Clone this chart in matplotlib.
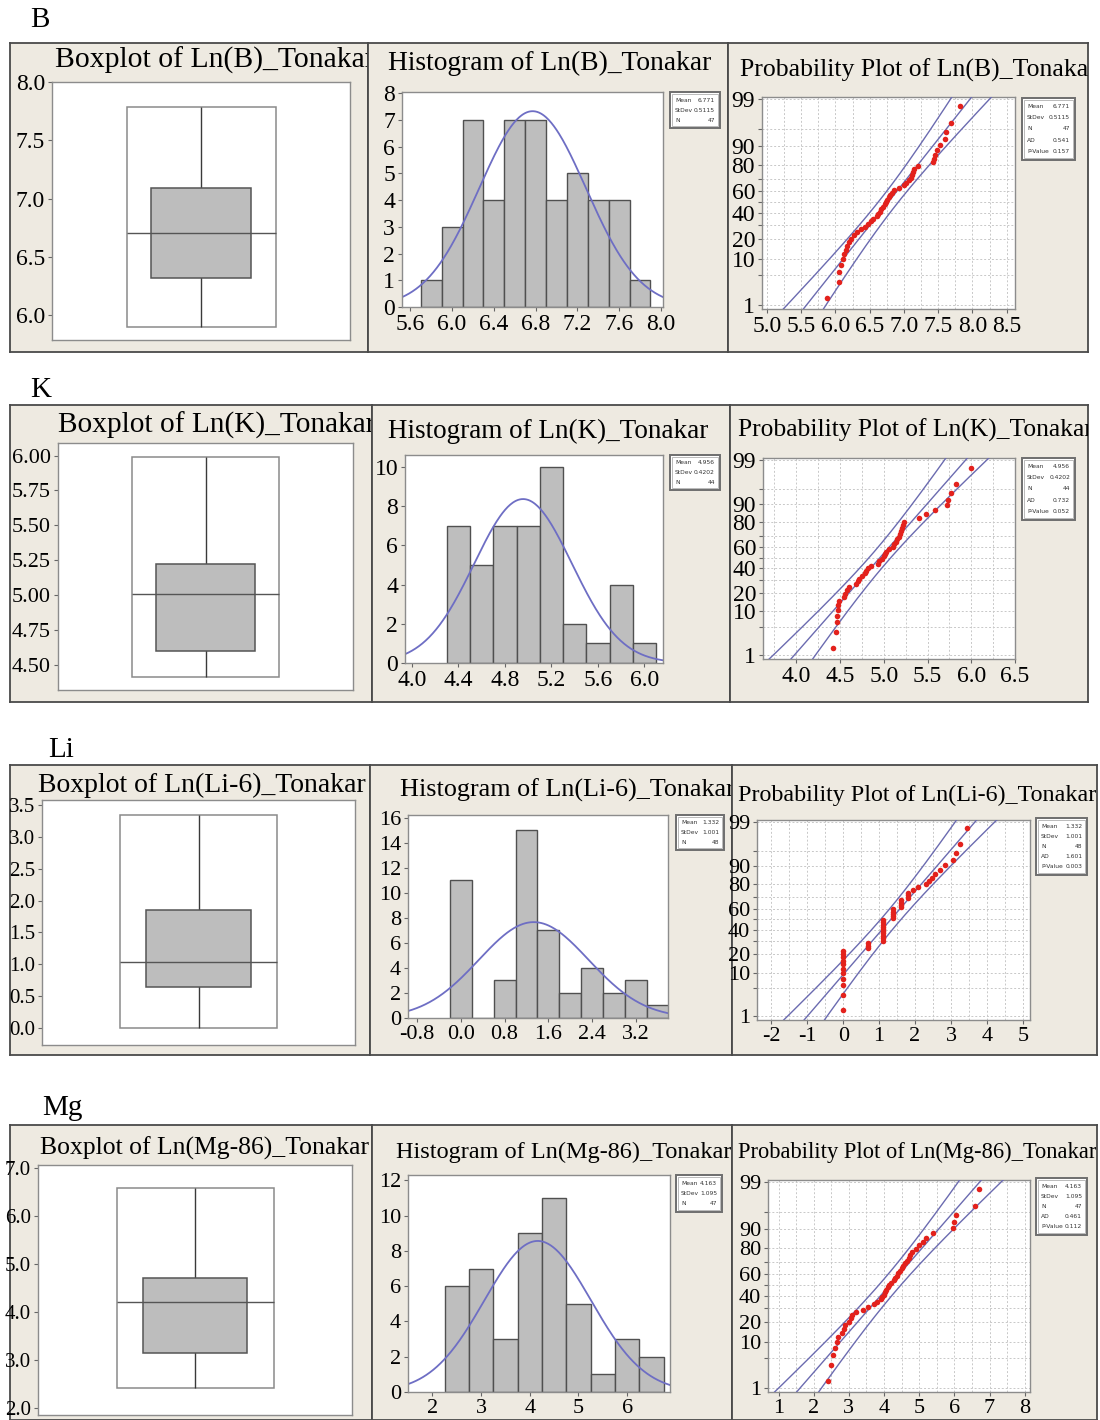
import numpy as np
import matplotlib
matplotlib.use('Agg')
import matplotlib.pyplot as plt
from matplotlib.patches import Rectangle
from statistics import NormalDist

# ---------------- data ----------------
elements = ['B', 'K', 'Li', 'Mg']
var_names = ['Ln(B)_Tonakar', 'Ln(K)_Tonakar', 'Ln(Li-6)_Tonakar', 'Ln(Mg-86)_Tonakar']

# boxplot: whisker low, Q1, median, Q3, whisker high
box_B = [5.90, 6.314, 6.706, 7.094, 7.786]
box_K = [4.41, 4.60, 5.01, 5.22, 5.99]
box_Li = [0.0, 0.64, 1.04, 1.85, 3.34]
box_Mg = [2.42, 3.15, 4.20, 4.71, 6.58]

vals_B = [5.88,
          6.05, 6.06, 6.08,
          6.11, 6.12, 6.15, 6.17, 6.20, 6.23, 6.27,
          6.32, 6.38, 6.43, 6.47,
          6.52, 6.55, 6.60, 6.62, 6.65, 6.67, 6.69,
          6.72, 6.74, 6.76, 6.78, 6.80, 6.82, 6.85,
          6.93, 7.00, 7.03, 7.07,
          7.11, 7.12, 7.13, 7.15, 7.20,
          7.42, 7.44, 7.46, 7.48,
          7.52, 7.60, 7.62, 7.68,
          7.82]
vals_K = [4.42, 4.45, 4.47, 4.47, 4.48, 4.48, 4.49,
          4.55, 4.56, 4.58, 4.60, 4.68,
          4.71, 4.72, 4.75, 4.78, 4.80, 4.82, 4.85,
          4.93, 4.95, 4.98, 5.00, 5.01, 5.03, 5.06,
          5.11, 5.12, 5.14, 5.15, 5.17, 5.18, 5.20, 5.21, 5.22, 5.23,
          5.40, 5.48,
          5.58,
          5.72, 5.73, 5.77, 5.82,
          6.00]
vals_Li = [0.0] * 11 + \
          [0.693] * 3 + \
          [1.099] * 10 + [1.386] * 5 + \
          [1.609] * 4 + [1.792] * 3 + \
          [1.946, 2.079] + \
          [2.303, 2.398, 2.485, 2.565] + \
          [2.708, 2.833] + \
          [3.045, 3.135, 3.258] + \
          [3.434]
vals_Mg = [2.40, 2.48, 2.56, 2.60, 2.65, 2.70,
           2.80, 2.85, 2.90, 3.00, 3.05, 3.10, 3.20,
           3.40, 3.55, 3.70,
           3.80, 3.90, 3.95, 4.00, 4.02, 4.05, 4.10, 4.15, 4.20,
           4.28, 4.32, 4.36, 4.40, 4.45, 4.50, 4.55, 4.60, 4.65, 4.70, 4.74,
           4.80, 4.90, 5.00, 5.10, 5.20,
           5.40,
           5.95, 6.00, 6.05,
           6.60, 6.70]

# histogram bins: first edge, width, number of bins
bins_B = (5.7, 0.2, 11)
bins_K = (4.3, 0.2, 9)
bins_Li = (-0.2, 0.4, 10)
bins_Mg = (2.25, 0.5, 9)

# summary statistics printed in the legend boxes
mean_vals = [6.771, 4.956, 1.332, 4.163]
sd_vals = [0.5115, 0.4202, 1.001, 1.095]
n_vals = [47, 44, 48, 47]
ad_vals = [0.541, 0.732, 1.601, 0.461]
p_vals = [0.157, 0.052, 0.003, 0.112]

prob_pct_ticks = [1, 5, 10, 20, 30, 40, 50, 60, 70, 80, 90, 95, 99]
prob_pct_labels = [1, 10, 20, 40, 60, 80, 90, 99]

boxes = [box_B, box_K, box_Li, box_Mg]
values = [vals_B, vals_K, vals_Li, vals_Mg]
bins = [bins_B, bins_K, bins_Li, bins_Mg]

# ---------------- layout (pixel coordinates, top-left origin) ----------------
W, H = 1100, 1420
SERIF = 'Liberation Serif'
plt.rcParams['font.family'] = SERIF
BG = '#EEEAE1'
FRAME = '#8c8c8c'

rows = [
    dict(lab_xy=(30, 20), top=43, bot=352, px=[10, 368, 728, 1088],
         box_ax=(52, 82, 350, 340), hist_ax=(402, 92, 663, 307), prob_ax=(762, 97, 1015, 309),
         titles=[(55, 60, 320), (388, 63, 324), (740, 70, 356)],
         hist_stat=(670, 92, 720, 128), prob_stat=(1022, 98, 1075, 160),
         box_yl=(5.786, 8.0), box_yt=(6.0, 8.0, 0.5), box_fmt='%.1f',
         hist_xl=(5.52, 8.02), hist_xt=(5.6, 8.0, 0.4), hist_fmt='%.1f', hist_yl=(0, 8.05), hist_yt=(0, 8, 1),
         prob_xl=(4.93, 8.62), prob_xt=(5.0, 8.5, 0.5), prob_fmt='%.1f', prob_grid=0.25, fs=17, bfs=17),
    dict(lab_xy=(30, 390), top=405, bot=702, px=[10, 372, 730, 1088],
         box_ax=(58, 443, 353, 690), hist_ax=(405, 455, 663, 663), prob_ax=(763, 458, 1015, 659),
         titles=[(58, 425, 317), (388, 431, 320), (738, 430, 354)],
         hist_stat=(670, 455, 720, 490), prob_stat=(1022, 458, 1075, 520),
         box_yl=(4.32, 6.09), box_yt=(4.5, 6.0, 0.25), box_fmt='%.2f',
         hist_xl=(3.94, 6.16), hist_xt=(4.0, 6.0, 0.4), hist_fmt='%.1f', hist_yl=(0, 10.6), hist_yt=(0, 10, 2),
         prob_xl=(3.62, 6.5), prob_xt=(4.0, 6.5, 0.5), prob_fmt='%.1f', prob_grid=0.25, fs=17, bfs=16),
    dict(lab_xy=(48, 750), top=765, bot=1055, px=[10, 370, 732, 1097],
         box_ax=(42, 800, 355, 1045), hist_ax=(408, 815, 668, 1018), prob_ax=(757, 820, 1030, 1020),
         titles=[(38, 785, 327), (400, 790, 334), (738, 795, 358)],
         hist_stat=(676, 815, 724, 850), prob_stat=(1036, 818, 1087, 875),
         box_yl=(-0.27, 3.58), box_yt=(0.0, 3.5, 0.5), box_fmt='%.1f',
         hist_xl=(-0.96, 3.78), hist_xt=(-0.8, 3.2, 0.8), hist_fmt='%.1f', hist_yl=(0, 16.2), hist_yt=(0, 16, 2),
         prob_xl=(-2.4, 5.2), prob_xt=(-2, 5, 1), prob_fmt='%d', prob_grid=0.5, fs=16, bfs=15),
    dict(lab_xy=(42, 1108), top=1125, bot=1420, px=[10, 372, 732, 1097],
         box_ax=(38, 1165, 352, 1415), hist_ax=(408, 1175, 670, 1392), prob_ax=(768, 1180, 1030, 1392),
         titles=[(40, 1148, 327), (396, 1152, 335), (738, 1152, 358)],
         hist_stat=(676, 1175, 722, 1212), prob_stat=(1036, 1178, 1087, 1235),
         box_yl=(1.85, 7.06), box_yt=(2.0, 7.0, 1.0), box_fmt='%.1f',
         hist_xl=(1.5, 6.88), hist_xt=(2, 6, 1), hist_fmt='%d', hist_yl=(0, 12.3), hist_yt=(0, 12, 2),
         prob_xl=(0.7, 8.15), prob_xt=(1, 8, 1), prob_fmt='%d', prob_grid=0.5, fs=16, bfs=15),
]

fig = plt.figure(figsize=(W / 100, H / 100), dpi=100)
fig.patch.set_facecolor('white')
renderer = fig.canvas.get_renderer()
nd = NormalDist()


def fig_axes(rect):
    x0, y0, x1, y1 = rect
    return fig.add_axes([x0 / W, 1 - y1 / H, (x1 - x0) / W, (y1 - y0) / H])


def panel(x0, y0, x1, y1, title, tpos):
    ax = fig_axes((x0, y0, x1, y1))
    ax.set_facecolor(BG)
    ax.set_xticks([])
    ax.set_yticks([])
    ax.set_xlim(x0, x1)
    ax.set_ylim(y1, y0)
    for s in ax.spines.values():
        s.set_color('#4a4a4a')
        s.set_linewidth(1.3)
    t = ax.text(tpos[0], tpos[1], title, fontsize=20, va='center', ha='left', clip_on=True)
    # scale the font so the title spans the same width as in the source
    w = t.get_window_extent(renderer=renderer).width
    t.set_fontsize(20 * tpos[2] / w)
    return ax


def stats_box(pax, rect, rows_txt):
    x0, y0, x1, y1 = rect
    pax.add_patch(Rectangle((x0, y0), x1 - x0, y1 - y0, fc='white', ec='#6e6e6e', lw=1.4))
    pax.add_patch(Rectangle((x0 + 2, y0 + 2), x1 - x0 - 4, y1 - y0 - 4, fill=False, ec='#b0b0b0', lw=0.6))
    dy = (y1 - y0 - 6) / len(rows_txt)
    for i, (k, v) in enumerate(rows_txt):
        yy = y0 + 3 + dy * (i + 0.5)
        pax.text(x0 + 5, yy, k, fontsize=4.3, family='DejaVu Sans', ha='left', va='center', color='#333333')
        pax.text(x1 - 5, yy, v, fontsize=4.3, family='DejaVu Sans', ha='right', va='center', color='#333333')


def style_axes(ax, fs):
    for s in ax.spines.values():
        s.set_color(FRAME)
        s.set_linewidth(1.0)
    ax.tick_params(labelsize=fs, length=3, color='#666666', pad=2)


def frange(a, b, step):
    return np.arange(a, b + step / 2, step)


for i, r in enumerate(rows):
    el = elements[i]
    fs = r['fs']
    fig.text(r['lab_xy'][0] / W, 1 - r['lab_xy'][1] / H, el, fontsize=21, va='center', ha='left')

    px = r['px']
    p_box = panel(px[0], r['top'], px[1], r['bot'], 'Boxplot of ' + var_names[i], r['titles'][0])
    p_hist = panel(px[1], r['top'], px[2], r['bot'], 'Histogram of ' + var_names[i], r['titles'][1])
    p_prob = panel(px[2], r['top'], px[3], r['bot'], 'Probability Plot of ' + var_names[i], r['titles'][2])

    mu, sd, n = mean_vals[i], sd_vals[i], n_vals[i]
    stats_box(p_hist, r['hist_stat'], [('Mean', '%g' % mu), ('StDev', '%g' % sd), ('N', '%d' % n)])
    stats_box(p_prob, r['prob_stat'], [('Mean', '%g' % mu), ('StDev', '%g' % sd), ('N', '%d' % n),
                                       ('AD', '%.3f' % ad_vals[i]), ('P-Value', '%.3f' % p_vals[i])])

    # ---- boxplot ----
    ax = fig_axes(r['box_ax'])
    style_axes(ax, r['bfs'])
    lo, q1, med, q3, hi = boxes[i]
    c, ow, bw = 0.5, 0.25, 0.167
    ax.add_patch(Rectangle((c - ow, lo), 2 * ow, hi - lo, fill=False, ec='#8a8a8a', lw=1.1, zorder=2))
    ax.vlines(c, lo, hi, color='#3a3a3a', lw=1.0, zorder=2)
    ax.add_patch(Rectangle((c - bw, q1), 2 * bw, q3 - q1, fc='#BDBDBD', ec='#555555', lw=1.1, zorder=3))
    ax.hlines(med, c - ow, c + ow, color='#555555', lw=1.0, zorder=4)
    ax.set_xlim(0, 1)
    ax.set_ylim(*r['box_yl'])
    ax.set_xticks([])
    yt = frange(*r['box_yt'])
    ax.set_yticks(yt)
    ax.set_yticklabels([r['box_fmt'] % v for v in yt])

    # ---- histogram ----
    ax = fig_axes(r['hist_ax'])
    style_axes(ax, fs)
    b0, bwid, nb = bins[i]
    edges = b0 + bwid * np.arange(nb + 1)
    ax.hist(values[i], bins=edges, color='#BEBEBE', edgecolor='#505050', linewidth=1.0)
    xx = np.linspace(r['hist_xl'][0], r['hist_xl'][1], 300)
    ax.plot(xx, n * bwid * np.array([NormalDist(mu, sd).pdf(v) for v in xx]), color='#6E6EC4', lw=1.3)
    ax.set_xlim(*r['hist_xl'])
    ax.set_ylim(*r['hist_yl'])
    xt = frange(*r['hist_xt'])
    ax.set_xticks(xt)
    ax.set_xticklabels([r['hist_fmt'] % v for v in xt])
    ax.set_yticks(frange(*r['hist_yt']))

    # ---- normal probability plot ----
    ax = fig_axes(r['prob_ax'])
    style_axes(ax, fs)
    xs = np.sort(values[i])
    m = len(xs)
    zs = [nd.inv_cdf((k + 1 - 0.3) / (m + 0.4)) for k in range(m)]
    zz = np.linspace(-3, 3, 200)
    fit = mu + sd * zz
    half = 1.96 * sd * np.sqrt(1.0 / n + zz ** 2 / (2.0 * (n - 1)))
    for line in (fit - half, fit, fit + half):
        ax.plot(line, zz, color='#6B6BB0', lw=1.0, zorder=3)
    ax.scatter(xs, zs, s=16, color='#E3211C', zorder=4, linewidths=0)
    ax.set_xlim(*r['prob_xl'])
    ax.set_ylim(-2.42, 2.38)
    xt = frange(*r['prob_xt'])
    ax.set_xticks(xt)
    ax.set_xticklabels([r['prob_fmt'] % v for v in xt])
    ax.set_xticks(frange(r['prob_xl'][0] - r['prob_xl'][0] % r['prob_grid'] + r['prob_grid'],
                         r['prob_xl'][1], r['prob_grid']), minor=True)
    ax.set_yticks([nd.inv_cdf(p / 100) for p in prob_pct_ticks])
    ax.set_yticklabels([str(p) if p in prob_pct_labels else '' for p in prob_pct_ticks])
    ax.tick_params(axis='x', which='minor', length=0)
    ax.grid(True, which='both', linestyle=(0, (2, 2)), color='#c8c8c8', lw=0.7)
    ax.set_axisbelow(True)

fig.savefig('out.png', dpi=100, facecolor='white')
